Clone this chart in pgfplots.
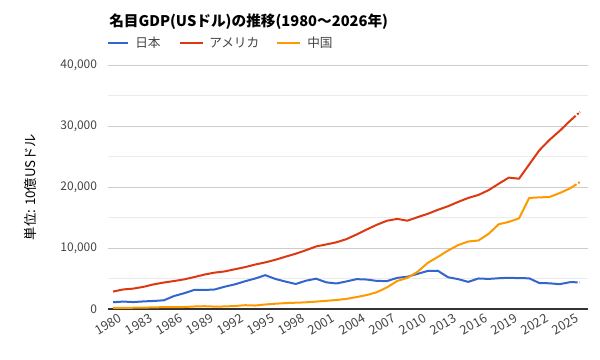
\documentclass[border=0pt]{standalone}
\usepackage{fontspec}
\setmainfont{Noto Sans CJK JP}
\usepackage{pgfplots}
\pgfplotsset{compat=1.18}
\definecolor{jp}{HTML}{3366CC}
\definecolor{us}{HTML}{DC3912}
\definecolor{cn}{HTML}{FF9900}
\definecolor{tick}{HTML}{444444}
\begin{document}
\begin{tikzpicture}
\useasboundingbox (0,0) rectangle (450pt,270pt);
\node[anchor=base west,inner sep=0pt,font=\fontsize{11}{13}\selectfont\bfseries] at (81.75pt,250pt) {名目GDP(USドル)の推移(1980〜2026年)};
\draw[jp,line width=1.5pt] (81pt,237.75pt) -- (96pt,237.75pt);
\node[anchor=west,inner sep=0pt,font=\fontsize{9.5}{11}\selectfont,text=tick] at (101.25pt,237.75pt) {日本};
\draw[us,line width=1.5pt] (135pt,237.75pt) -- (152.25pt,237.75pt);
\node[anchor=west,inner sep=0pt,font=\fontsize{9.5}{11}\selectfont,text=tick] at (156.75pt,237.75pt) {アメリカ};
\draw[cn,line width=1.5pt] (207.75pt,237.75pt) -- (225pt,237.75pt);
\node[anchor=west,inner sep=0pt,font=\fontsize{9.5}{11}\selectfont,text=tick] at (230.25pt,237.75pt) {中国};
\begin{axis}[
  at={(81pt,38.25pt)}, anchor=south west,
  scale only axis, width=360pt, height=183pt,
  xmin=1979.5, xmax=2026.8, ymin=0, ymax=40000,
  axis x line*=bottom, axis y line*=left,
  x axis line style={draw=black!80, line width=0.8pt, -},
  y axis line style={draw=none},
  tick style={draw=none},
  xtick={1980,1983,...,2025},
  ytick={0,10000,20000,30000,40000},
  minor ytick={5000,15000,25000,35000},
  ymajorgrids, yminorgrids,
  major grid style={draw=black!20, line width=0.6pt},
  minor grid style={draw=black!8, line width=0.6pt},
  /pgf/number format/assume math mode=true,
  yticklabel style={/pgf/number format/1000 sep={,}, font=\fontsize{9}{10}\selectfont, text=tick, inner sep=0pt, xshift=-8pt},
  xticklabel style={/pgf/number format/1000 sep={}, font=\fontsize{9.5}{10}\selectfont, text=tick, rotate=30, anchor=north east, inner sep=0pt, yshift=-4.5pt, xshift=2pt},
  scaled y ticks=false,
  ylabel={単位: 10億USドル},
  ylabel style={font=\fontsize{9}{10}\selectfont, text=tick},
  every axis y label/.style={at={(axis description cs:-0.1625,0.5)}, rotate=90, anchor=center},
  line join=round,
]
\addplot[jp, line width=1.5pt] coordinates {
(1980,1105)(1981,1218)(1982,1134)(1983,1243)(1984,1318)(1985,1427)(1986,2121)(1987,2585)(1988,3126)(1989,3118)
(1990,3197)(1991,3657)(1992,4038)(1993,4544)(1994,4999)(1995,5545)(1996,4923)(1997,4493)(1998,4098)(1999,4636)
(2000,4968)(2001,4374)(2002,4183)(2003,4520)(2004,4894)(2005,4831)(2006,4601)(2007,4579)(2008,5106)(2009,5289)
(2010,5759)(2011,6233)(2012,6272)(2013,5212)(2014,4897)(2015,4445)(2016,5004)(2017,4931)(2018,5041)(2019,5118)
(2020,5055)(2021,5034)(2022,4256)(2023,4213)(2024,4070)(2025,4390)};
\addplot[jp, line width=1.5pt, dash pattern=on 6pt off 1.5pt on 1.5pt off 1pt] coordinates {(2025,4390)(2026,4380)};
\addplot[us, line width=1.5pt] coordinates {
(1980,2857)(1981,3207)(1982,3343)(1983,3634)(1984,4037)(1985,4339)(1986,4580)(1987,4855)(1988,5236)(1989,5642)
(1990,5963)(1991,6158)(1992,6520)(1993,6859)(1994,7287)(1995,7640)(1996,8073)(1997,8578)(1998,9063)(1999,9631)
(2000,10251)(2001,10582)(2002,10929)(2003,11457)(2004,12217)(2005,13039)(2006,13816)(2007,14474)(2008,14770)(2009,14478)
(2010,15049)(2011,15600)(2012,16254)(2013,16843)(2014,17551)(2015,18206)(2016,18695)(2017,19477)(2018,20533)(2019,21540)
(2020,21354)(2021,23681)(2022,26007)(2023,27721)(2024,29185)(2025,30800)};
\addplot[us, line width=1.5pt, dash pattern=on 6pt off 1.5pt on 1.5pt off 1pt] coordinates {(2025,30800)(2026,32300)};
\addplot[cn, line width=1.5pt] coordinates {
(1980,191)(1981,196)(1982,205)(1983,231)(1984,260)(1985,309)(1986,301)(1987,327)(1988,408)(1989,457)
(1990,395)(1991,414)(1992,493)(1993,623)(1994,567)(1995,737)(1996,868)(1997,966)(1998,1034)(1999,1093)
(2000,1211)(2001,1339)(2002,1471)(2003,1660)(2004,1955)(2005,2286)(2006,2752)(2007,3550)(2008,4594)(2009,5102)
(2010,6087)(2011,7552)(2012,8532)(2013,9571)(2014,10476)(2015,11062)(2016,11233)(2017,12310)(2018,13895)(2019,14280)
(2020,14862)(2021,18200)(2022,18300)(2023,18350)(2024,19000)(2025,19750)};
\addplot[cn, line width=1.5pt, dash pattern=on 6pt off 1.5pt on 1.5pt off 1pt] coordinates {(2025,19750)(2026,20800)};
\end{axis}
\end{tikzpicture}
\end{document}
